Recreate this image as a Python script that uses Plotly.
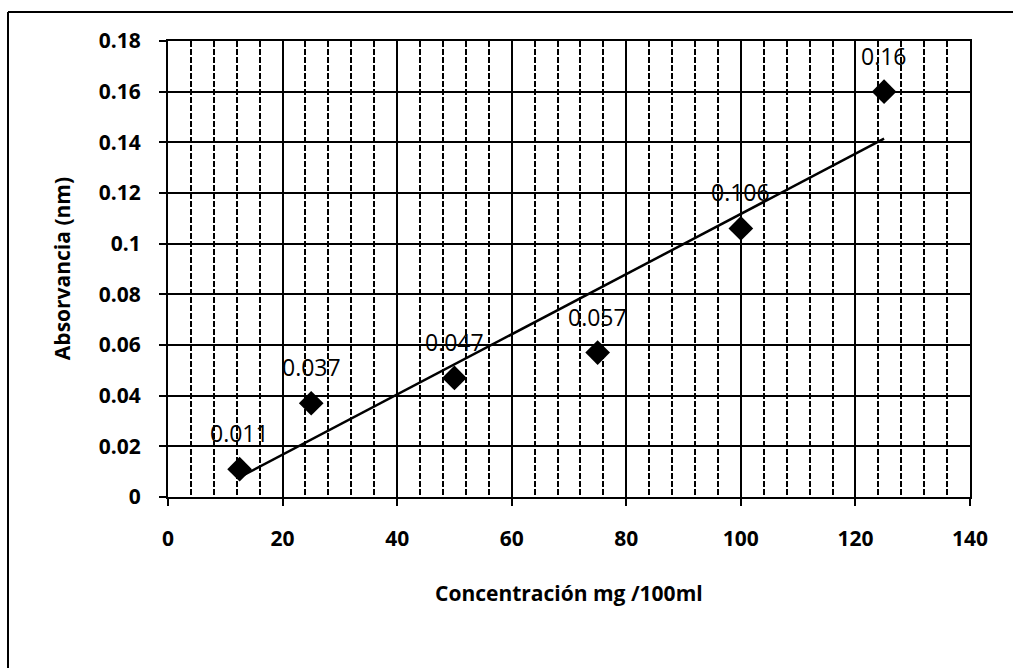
import numpy as np
import plotly.graph_objects as go

concentracion = [12.5, 25, 50, 75, 100, 125]
absorvancia = [0.011, 0.037, 0.047, 0.057, 0.106, 0.16]
etiquetas = ["0.011", "0.037", "0.047", "0.057", "0.106", "0.16"]
x_ticks = [0, 20, 40, 60, 80, 100, 120, 140]
y_ticks = [0, 0.02, 0.04, 0.06, 0.08, 0.1, 0.12, 0.14, 0.16, 0.18]
y_ticktext = ["0", "0.02", "0.04", "0.06", "0.08", "0.1", "0.12", "0.14", "0.16", "0.18"]

# linear trendline (least squares)
slope, intercept = np.polyfit(concentracion, absorvancia, 1)
trend_x = [min(concentracion), max(concentracion)]
trend_y = [slope * v + intercept for v in trend_x]

FONT = "Open Sans"

fig = go.Figure()
fig.add_trace(go.Scatter(x=trend_x, y=trend_y, mode="lines",
                         line=dict(color="black", width=2.5),
                         hoverinfo="skip", showlegend=False))
fig.add_trace(go.Scatter(x=concentracion, y=absorvancia, mode="markers",
                         marker=dict(symbol="diamond", size=19, color="black"),
                         showlegend=False))

for xv, yv, t in zip(concentracion, absorvancia, etiquetas):
    fig.add_annotation(x=xv, y=yv, text=t, showarrow=False, yshift=36,
                       font=dict(family=FONT, size=23, color="black"))

fig.add_annotation(xref="paper", yref="paper", x=0.5, y=-0.21,
                   text="Concentración mg /100ml", showarrow=False,
                   xanchor="center", yanchor="middle",
                   font=dict(family=FONT, size=21, color="black", weight="bold"))
fig.add_annotation(xref="paper", yref="paper", x=-0.132, y=0.5,
                   text="Absorvancia (nm)", showarrow=False, textangle=-90,
                   xanchor="center", yanchor="middle",
                   font=dict(family=FONT, size=21, color="black", weight="bold"))

# chart-area frame (left and top edges visible)
fig.add_shape(type="line", xref="paper", yref="paper",
              x0=-160/802, x1=-160/802, y0=-2, y1=(497-12)/456,
              line=dict(color="black", width=2))
fig.add_shape(type="line", xref="paper", yref="paper",
              x0=-160/802, x1=2, y0=(497-12)/456, y1=(497-12)/456,
              line=dict(color="black", width=2))

fig.update_xaxes(range=[0, 140], tickvals=x_ticks,
                 showgrid=True, gridcolor="black", gridwidth=2,
                 minor=dict(dtick=4, showgrid=True, gridcolor="black",
                            griddash="6px,2px", gridwidth=1.5, ticks=""),
                 showline=True, linecolor="black", linewidth=2, mirror=True,
                 ticks="outside", ticklen=7, tickcolor="black", tickwidth=2,
                 ticklabelstandoff=15, zeroline=False,
                 tickfont=dict(family=FONT, size=21, color="black", weight="bold"))
fig.update_yaxes(range=[0, 0.18], tickvals=y_ticks, ticktext=y_ticktext,
                 showgrid=True, gridcolor="black", gridwidth=2,
                 showline=True, linecolor="black", linewidth=2, mirror=True,
                 ticks="outside", ticklen=7, tickcolor="black", tickwidth=2,
                 ticklabelstandoff=14, zeroline=False,
                 tickfont=dict(family=FONT, size=21, color="black", weight="bold"))

fig.update_layout(width=1013, height=668,
                  margin=dict(l=168, r=43, t=41, b=171),
                  paper_bgcolor="white", plot_bgcolor="white",
                  showlegend=False)

fig.write_html("out.html", config={"displayModeBar": False},
               post_script="document.body.style.margin='0';document.body.style.overflow='hidden';")
